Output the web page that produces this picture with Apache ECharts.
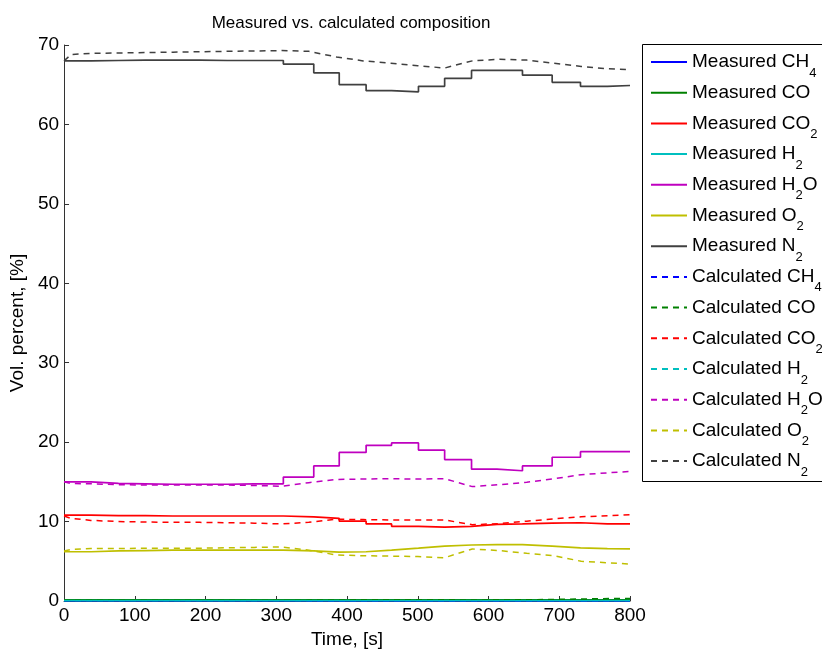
<!DOCTYPE html>
<html>
<head>
<meta charset="utf-8">
<script src="https://cdn.jsdelivr.net/npm/echarts@6/dist/echarts.min.js"></script>
<style>
  html, body { margin: 0; padding: 0; background: #fff; }
  #main { width: 822px; height: 654px; }
</style>
</head>
<body>
<div id="main"></div>
<script>
// measured values are stairs, one value per sampling step
var measTime = [0, 38, 77, 115, 154, 192, 231, 269, 310, 353, 389, 427, 463, 501, 538, 576, 612, 648, 690, 730, 768, 800];
var measCH4 = [0.02, 0.02, 0.02, 0.02, 0.02, 0.02, 0.02, 0.02, 0.02, 0.02, 0.02, 0.02, 0.02, 0.02, 0.02, 0.02, 0.02, 0.02, 0.02, 0.02, 0.02, 0.02];
var measCO = [0.15, 0.15, 0.15, 0.15, 0.15, 0.15, 0.15, 0.15, 0.15, 0.15, 0.15, 0.15, 0.15, 0.15, 0.15, 0.15, 0.15, 0.15, 0.15, 0.15, 0.15, 0.15];
var measCO2 = [10.8, 10.75, 10.75, 10.7, 10.7, 10.7, 10.7, 10.7, 10.6, 10.4, 10.05, 9.7, 9.4, 9.3, 9.4, 9.65, 9.7, 9.8, 9.85, 9.7, 9.7, 9.7];
var measH2 = [0.05, 0.05, 0.05, 0.05, 0.05, 0.05, 0.05, 0.05, 0.05, 0.05, 0.05, 0.05, 0.05, 0.05, 0.05, 0.05, 0.05, 0.05, 0.05, 0.05, 0.05, 0.05];
var measH2O = [15.0, 14.8, 14.75, 14.7, 14.7, 14.7, 14.75, 14.75, 15.6, 17.0, 18.7, 19.6, 19.9, 19.0, 17.8, 16.6, 16.4, 17.0, 18.1, 18.8, 18.8, 18.8];
var measO2 = [6.2, 6.3, 6.35, 6.4, 6.4, 6.4, 6.4, 6.4, 6.3, 6.15, 6.2, 6.4, 6.65, 6.9, 7.05, 7.1, 7.1, 6.9, 6.7, 6.6, 6.55, 6.55];
var measN2 = [68.0, 68.05, 68.1, 68.1, 68.1, 68.05, 68.05, 68.05, 67.6, 66.5, 65.0, 64.25, 64.1, 64.8, 65.8, 66.8, 66.8, 66.2, 65.3, 64.8, 64.9, 64.9];

// calculated values
var calcTime = [0, 10, 38, 77, 115, 154, 192, 231, 269, 308, 346, 385, 423, 462, 500, 538, 577, 616, 654, 693, 731, 770, 800];
var calcCH4 = [0, 0, 0, 0, 0, 0, 0, 0, 0, 0, 0, 0, 0, 0, 0, 0, 0, 0, 0, 0, 0, 0, 0];
var calcCO = [0.05, 0.05, 0.05, 0.05, 0.05, 0.05, 0.05, 0.05, 0.05, 0.05, 0.08, 0.1, 0.12, 0.12, 0.12, 0.12, 0.1, 0.12, 0.15, 0.2, 0.25, 0.3, 0.3];
var calcCO2 = [10.7, 10.4, 10.15, 10.0, 9.95, 9.9, 9.9, 9.85, 9.8, 9.7, 9.9, 10.3, 10.25, 10.2, 10.2, 10.2, 9.6, 9.75, 10.05, 10.35, 10.6, 10.75, 10.85];
var calcH2 = [0.02, 0.02, 0.02, 0.02, 0.02, 0.02, 0.02, 0.02, 0.02, 0.02, 0.02, 0.02, 0.02, 0.02, 0.02, 0.02, 0.02, 0.02, 0.02, 0.02, 0.02, 0.02, 0.02];
var calcH2O = [15.0, 14.8, 14.75, 14.65, 14.6, 14.6, 14.6, 14.6, 14.55, 14.45, 14.9, 15.3, 15.35, 15.4, 15.35, 15.4, 14.4, 14.65, 14.95, 15.4, 15.9, 16.15, 16.3];
var calcO2 = [6.3, 6.5, 6.6, 6.6, 6.65, 6.65, 6.65, 6.7, 6.75, 6.8, 6.4, 5.8, 5.7, 5.65, 5.6, 5.45, 6.55, 6.35, 6.0, 5.7, 5.0, 4.8, 4.65];
var calcN2 = [68.0, 68.8, 68.95, 69.0, 69.05, 69.1, 69.15, 69.2, 69.25, 69.3, 69.2, 68.5, 68.0, 67.7, 67.4, 67.1, 68.0, 68.2, 68.1, 67.7, 67.3, 67.0, 66.9];

var gases = ['CH{s|4}', 'CO', 'CO{s|2}', 'H{s|2}', 'H{s|2}O', 'O{s|2}', 'N{s|2}'];
var colors = ['#0000ff', '#008000', '#ff0000', '#00bfbf', '#bf00bf', '#bfbf00', '#404040'];
var measured = [measCH4, measCO, measCO2, measH2, measH2O, measO2, measN2];
var calculated = [calcCH4, calcCO, calcCO2, calcH2, calcH2O, calcO2, calcN2];

function pairs(t, v) {
  var out = [];
  for (var i = 0; i < t.length; i++) out.push([t[i], v[i]]);
  return out;
}

var series = [];
var names = [];
for (var i = 0; i < gases.length; i++) {
  var n = 'Measured ' + gases[i];
  names.push(n);
  series.push({
    name: n, type: 'line', step: 'end', symbol: 'none',
    data: pairs(measTime, measured[i]),
    lineStyle: { color: colors[i], width: 1.7 },
    itemStyle: { color: colors[i], opacity: 0 }
  });
}
for (var i = 0; i < gases.length; i++) {
  var n = 'Calculated ' + gases[i];
  names.push(n);
  series.push({
    name: n, type: 'line', symbol: 'none',
    data: pairs(calcTime, calculated[i]),
    lineStyle: { color: colors[i], width: 1.5, type: [6, 5] },
    itemStyle: { color: colors[i], opacity: 0 }
  });
}

var font = 'Liberation Sans, Arial, Helvetica, sans-serif';

var chart = echarts.init(document.getElementById('main'));
var option = {
  backgroundColor: '#fff',
  animation: false,
  title: {
    text: 'Measured vs. calculated composition',
    left: 346, top: 10, textAlign: 'center',
    textStyle: { fontFamily: font, fontSize: 17, fontWeight: 'normal', color: '#000' }
  },
  graphic: [{
    type: 'rect', left: 642, top: 44, z: -1,
    shape: { width: 200, height: 437 },
    style: { fill: '#fff', stroke: '#000', lineWidth: 1 }
  }],
  grid: { left: 62, right: 192, top: 45, bottom: 49 },
  xAxis: {
    type: 'value', min: 0, max: 800, interval: 100,
    name: 'Time, [s]', nameLocation: 'middle', nameGap: 29,
    nameTextStyle: { fontFamily: font, fontSize: 19, color: '#000' },
    axisLine: { lineStyle: { color: '#333', width: 1 } },
    axisTick: { inside: true, length: 5, lineStyle: { color: '#333' } },
    axisLabel: { fontFamily: font, fontSize: 19, color: '#000', margin: 5 },
    splitLine: { show: false }
  },
  yAxis: {
    type: 'value', min: 0, max: 70, interval: 10,
    name: 'Vol. percent, [%]', nameLocation: 'middle', nameGap: 32,
    nameTextStyle: { fontFamily: font, fontSize: 19, color: '#000' },
    axisLine: { show: true, lineStyle: { color: '#333', width: 1 } },
    axisTick: { show: true, inside: true, length: 5, lineStyle: { color: '#333' } },
    axisLabel: { fontFamily: font, fontSize: 19, color: '#000', margin: 5 },
    splitLine: { show: false }
  },
  legend: {
    data: names,
    orient: 'vertical',
    left: 650, top: 44.5,
    padding: 0,
    itemGap: -4.3,
    itemWidth: 36, itemHeight: 14,
    itemStyle: { opacity: 0 },
    textStyle: {
      fontFamily: font, fontSize: 19, color: '#000', lineHeight: 35,
      rich: {
        s: { fontFamily: font, fontSize: 13, color: '#000', lineHeight: 13, padding: [22, 0, 0, 0] }
      }
    }
  },
  series: series
};
chart.setOption(option);
</script>
</body>
</html>
